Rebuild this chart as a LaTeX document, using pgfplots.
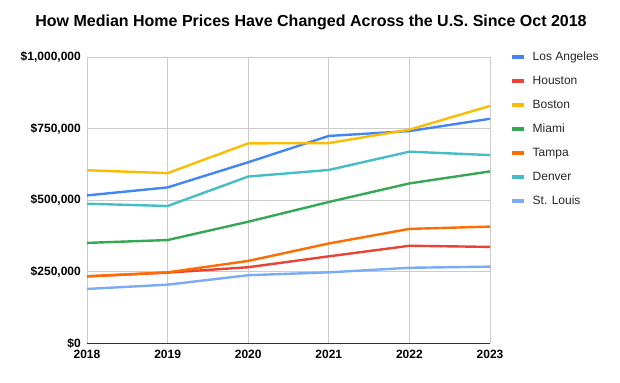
\documentclass[border=0pt]{standalone}
\usepackage{pgfplots}
\pgfplotsset{compat=1.18}
\usepackage{fontspec}
\setmainfont{Liberation Sans}
\definecolor{cLA}{HTML}{4285F4}
\definecolor{cHou}{HTML}{EA4335}
\definecolor{cBos}{HTML}{FBBC04}
\definecolor{cMia}{HTML}{34A853}
\definecolor{cTam}{HTML}{FF6D01}
\definecolor{cDen}{HTML}{46BDC6}
\definecolor{cStl}{HTML}{7BAAF7}
\definecolor{gridc}{HTML}{CCCCCC}
\definecolor{axc}{HTML}{333333}
\begin{document}
\begin{tikzpicture}
\useasboundingbox (0,0) rectangle (620bp,383bp);
\node[font=\bfseries\fontsize{16bp}{18bp}\selectfont, text=black] at (311bp,361bp) {How Median Home Prices Have Changed Across the U.S. Since Oct 2018};
\begin{axis}[
  at={(87bp,40bp)}, anchor=south west,
  scale only axis, width=403bp, height=286bp,
  xmin=2018, xmax=2023, ymin=0, ymax=1000000,
  scaled y ticks=false, scaled x ticks=false,
  xtick={2018,2019,2020,2021,2022,2023},
  xticklabels={2018,2019,2020,2021,2022,2023},
  ytick={0,250000,500000,750000,1000000},
  yticklabels={\$0,{\$250,000},{\$500,000},{\$750,000},{\$1,000,000}},
  tick style={draw=none},
  grid=major,
  major grid style={gridc, line width=0.8bp},
  axis line style={draw=none},
  xticklabel style={font=\bfseries\fontsize{12bp}{14bp}\selectfont, inner sep=0pt, yshift=-6bp, text height=9bp},
  yticklabel style={font=\bfseries\fontsize{12bp}{14bp}\selectfont, inner sep=0pt, xshift=-6bp},
  legend cell align=left,
  legend style={at={(1.0496,1.021)}, anchor=north west, draw=none, fill=none, inner sep=0pt,
    font=\fontsize{12bp}{14bp}\selectfont, text=black!85,
    nodes={inner sep=0pt, text height=9bp, text depth=3bp},
    row sep=12bp,
    /tikz/every odd column/.append style={column sep=7bp}},
  legend image code/.code={\draw[#1, line width=3.5bp] (0bp,0bp) -- (12bp,0bp);},
  every axis plot/.append style={line width=2.4bp, line join=round},
  clip=false,
]
\addplot[cLA] coordinates {(2018,516000)(2019,544000)(2020,632000)(2021,724000)(2022,741000)(2023,784000)};
\addlegendentry{Los Angeles}
\addplot[cHou] coordinates {(2018,233000)(2019,246000)(2020,265000)(2021,303000)(2022,340000)(2023,336000)};
\addlegendentry{Houston}
\addplot[cBos] coordinates {(2018,604000)(2019,594000)(2020,698000)(2021,699000)(2022,746000)(2023,829000)};
\addlegendentry{Boston}
\addplot[cMia] coordinates {(2018,350000)(2019,360000)(2020,424000)(2021,493000)(2022,558000)(2023,600000)};
\addlegendentry{Miami}
\addplot[cTam] coordinates {(2018,233000)(2019,247000)(2020,287000)(2021,348000)(2022,399000)(2023,407000)};
\addlegendentry{Tampa}
\addplot[cDen] coordinates {(2018,487000)(2019,479000)(2020,582000)(2021,605000)(2022,669000)(2023,657000)};
\addlegendentry{Denver}
\addplot[cStl] coordinates {(2018,189000)(2019,204000)(2020,237000)(2021,247000)(2022,263000)(2023,267000)};
\addlegendentry{St. Louis}
\draw[axc, line width=1bp] (rel axis cs:0,0) -- (rel axis cs:1,0);
\end{axis}
\end{tikzpicture}
\end{document}
